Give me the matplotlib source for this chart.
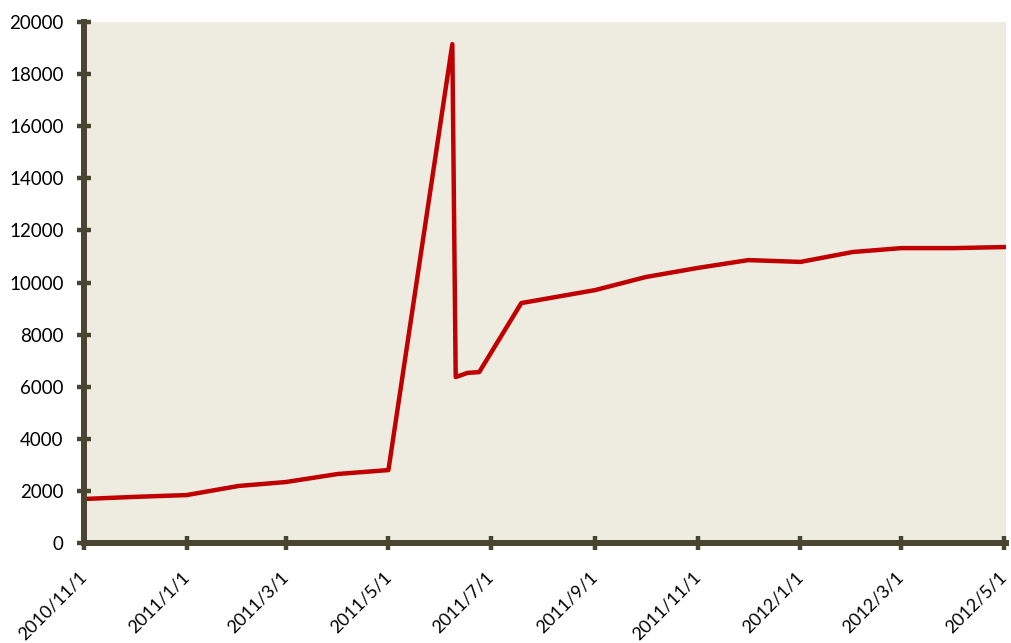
import matplotlib
matplotlib.use("Agg")
import matplotlib.pyplot as plt
import matplotlib.dates as mdates
import matplotlib.transforms as mtransforms
import numpy as np
from datetime import datetime

dates = ["2010-11-01", "2010-12-01", "2011-01-01", "2011-02-01", "2011-03-01",
         "2011-04-01", "2011-05-01", "2011-06-08", "2011-06-10", "2011-06-17",
         "2011-06-24", "2011-07-19", "2011-09-01", "2011-10-01", "2011-11-01",
         "2011-12-01", "2012-01-01", "2012-02-01", "2012-03-01", "2012-04-01",
         "2012-05-01"]
values = [1690, 1770, 1840, 2190, 2340, 2650, 2800, 19150, 6370, 6530,
          6560, 9210, 9710, 10210, 10560, 10860, 10790, 11170, 11320, 11320,
          11360]
tick_dates = ["2010-11-01", "2011-01-01", "2011-03-01", "2011-05-01", "2011-07-01",
              "2011-09-01", "2011-11-01", "2012-01-01", "2012-03-01", "2012-05-01"]
tick_labels = ["2010/11/1", "2011/1/1", "2011/3/1", "2011/5/1", "2011/7/1",
               "2011/9/1", "2011/11/1", "2012/1/1", "2012/3/1", "2012/5/1"]
y_ticks = list(range(0, 20001, 2000))

plt.rcParams['font.family'] = ['Lato', 'DejaVu Sans']

W, H = 1011, 643
fig = plt.figure(figsize=(W / 100, H / 100), dpi=100)
ax = fig.add_axes([84 / W, (H - 543) / H, (1006 - 84) / W, (543 - 22) / H])
ax.set_facecolor("#EEEBE0")

x = [mdates.date2num(datetime.strptime(d, "%Y-%m-%d")) for d in dates]
ax.plot(x, values, color="#C00000", lw=3.2, solid_joinstyle="round", zorder=3)

xt = [mdates.date2num(datetime.strptime(d, "%Y-%m-%d")) for d in tick_dates]
ax.set_xticks(xt)
ax.set_xticklabels(tick_labels, rotation=45, ha="right", va="center",
                   rotation_mode="anchor", fontsize=13)
ax.set_yticks(y_ticks)
ax.set_yticklabels([str(v) for v in y_ticks], fontsize=13.5)

labs = ax.get_xticklabels()
for i, lab in enumerate(labs):
    dx = 1 if i == len(labs) - 1 else 7
    lab.set_transform(lab.get_transform() +
                      mtransforms.ScaledTranslation(dx / 100, 0, fig.dpi_scale_trans))

ax.set_xlim(xt[0], xt[-1] + 1.2)
ax.set_ylim(0, 20000)

axis_col = "#4A4530"
for s in ["top", "right"]:
    ax.spines[s].set_visible(False)
for s in ["left", "bottom"]:
    ax.spines[s].set_color(axis_col)
    ax.spines[s].set_linewidth(4.3)
    ax.spines[s].set_zorder(4)
ax.tick_params(axis="both", direction="inout", length=9.5, width=3.2, color=axis_col,
               labelcolor="black")
ax.tick_params(axis="y", pad=10)
ax.tick_params(axis="x", pad=18)

fig.savefig("out.png", dpi=100)
